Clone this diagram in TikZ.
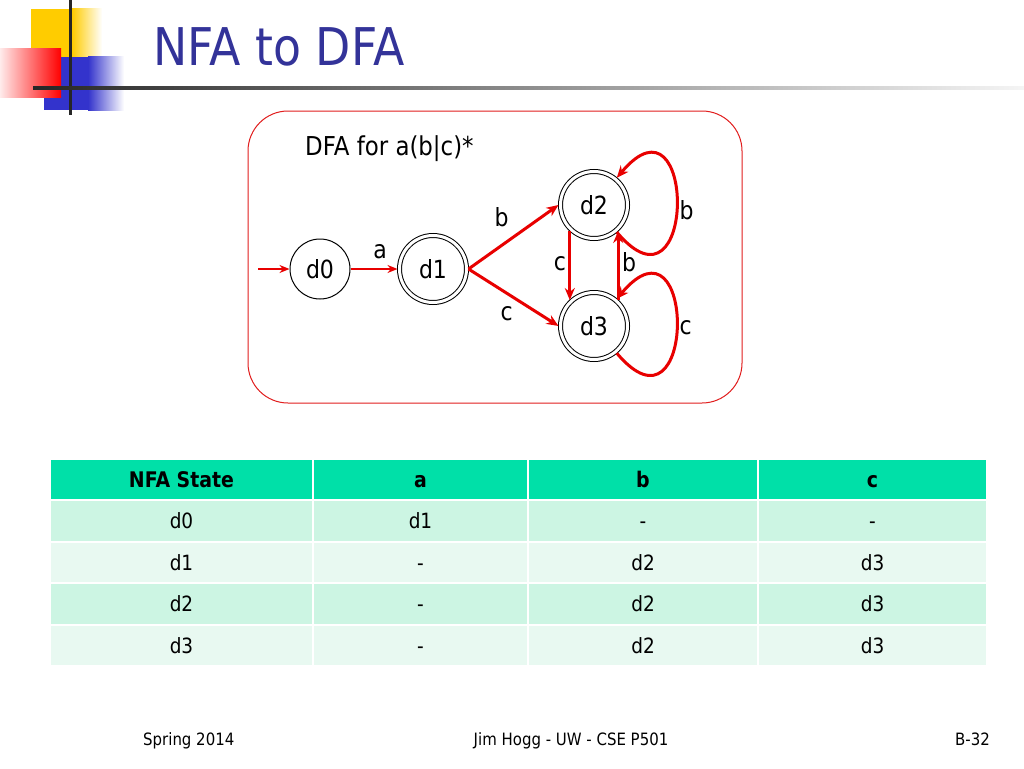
\documentclass[tikz,border=0pt]{standalone}
\usepackage{fontspec}
\setmainfont{DejaVu Sans}[FakeStretch=0.88]
\usetikzlibrary{arrows.meta}

\definecolor{titleblue}{RGB}{51,51,153}
\definecolor{arcred}{RGB}{232,0,0}
\definecolor{boxred}{RGB}{225,30,30}
\definecolor{headgreen}{RGB}{0,224,168}
\definecolor{rowA}{RGB}{204,245,227}
\definecolor{rowB}{RGB}{232,249,241}
\definecolor{logoyellow}{RGB}{255,204,0}
\definecolor{logoblue}{RGB}{51,51,204}
\definecolor{logored}{RGB}{255,0,0}

\tikzset{
  state/.style={circle,draw,line width=1pt,minimum size=60,inner sep=0pt,
    font=\fontsize{25}{25}\selectfont},
  accept/.style={state,double,double distance=3pt,minimum size=67,outer sep=2pt},
  trans/.style={draw=arcred,line width=3pt,-{Stealth[length=12pt,width=10pt]}},
  thintrans/.style={trans,line width=2.2pt,-{Stealth[length=10pt,width=8pt]}},
  lbl/.style={font=\fontsize{25}{25}\selectfont},
  cell/.style={draw=white,line width=2pt,inner sep=0pt,text height=15pt,text depth=0pt,
    font=\fontsize{21}{21}\selectfont}
}

\begin{document}
\begin{tikzpicture}[x=1pt,y=-1pt]
  \useasboundingbox (0,0) rectangle (1024,768);
  \fill[white] (0,0) rectangle (1024,768);

  % logo
  \fill[logoyellow] (31,9) rectangle (72,57);
  \shade[left color=logoyellow,right color=white] (72,9) rectangle (102,57);
  \fill[logoblue] (44,57) rectangle (88,110);
  \shade[left color=logoblue,right color=white] (88,57) rectangle (124,110);
  \shade[left color=red!8,right color=logored] (0,49) rectangle (61,97);
  \fill[black!85] (69,0) rectangle (72,115);
  \shade[left color=black!85,right color=black!4] (33,86.5) rectangle (1024,89.5);

  % title
  \node[anchor=base west,inner sep=0pt,text=titleblue,font=\fontsize{52}{52}\selectfont]
    (title) at (153,66) {NFA to DFA};

  % box round the automaton
  \draw[boxred,line width=1pt,rounded corners=40] (248,111) rectangle (742,403);
  \node[anchor=base west,inner sep=0pt,font=\fontsize{26}{26}\selectfont]
    (caption) at (305,155) {DFA for a(b|c)*};

  % states
  \node[state]  (d0) at (320,269) {d0};
  \node[accept] (d1) at (433,269) {d1};
  \node[accept] (d2) at (594,205) {d2};
  \node[accept] (d3) at (594,326) {d3};
  \coordinate (start) at (258,269);

  % transitions
  \draw[thintrans] (start) -- (d0);
  \draw[thintrans] (d0) -- node[lbl,above,xshift=6pt,yshift=6pt] {a} (d1);
  \draw[trans] (d1.east) -- node[lbl,above left,yshift=5pt] {b} (d2.west);
  \draw[trans] (d1.east) -- node[lbl,below left,xshift=4pt,yshift=-4pt] {c} (d3.west);
  \draw[trans] (d2.-133) -- node[lbl,left,xshift=1pt,yshift=2pt] {c} (d3.133);
  \draw[trans] (d3.47) -- node[lbl,right,xshift=-1pt,yshift=3pt] {b} (d2.-47);
  \draw[trans] (d2.-50) .. controls +(80,95) and +(80,-95) .. node[lbl,right,xshift=-2pt,yshift=-5pt] {b} (d2.50);
  \draw[trans] (d3.-50) .. controls +(80,95) and +(80,-95) .. node[lbl,right,xshift=-2pt,yshift=-2pt] {c} (d3.50);

  % table header
  \foreach \txt [count=\c] in {NFA State,a,b,c} {
    \pgfmathsetmacro\cx{{181.5,420.5,643,872.5}[\c-1]}
    \pgfmathsetmacro\w{{263,215,230,229}[\c-1]}
    \node[cell,fill=headgreen,minimum width=\w,minimum height=41,
      font=\fontsize{21.5}{21.5}\selectfont\bfseries] (h-\c) at (\cx,479.5) {\txt};
  }

  % table rows
  \foreach \row [count=\r] in {{d0,d1,-,-},{d1,-,d2,d3},{d2,-,d2,d3},{d3,-,d2,d3}} {
    \ifodd\r \def\clr{rowA}\else \def\clr{rowB}\fi
    \foreach \txt [count=\c] in \row {
      \pgfmathsetmacro\cx{{181.5,420.5,643,872.5}[\c-1]}
      \pgfmathsetmacro\w{{263,215,230,229}[\c-1]}
      \pgfmathsetmacro\cy{479.5+41.5*\r}
      \node[cell,fill=\clr,minimum width=\w,minimum height=41.5] (c-\r-\c) at (\cx,\cy) {\txt};
    }
  }

  % footer
  \node[anchor=base west,inner sep=0pt,font=\fontsize{17}{17}\selectfont] (season) at (143,745) {Spring 2014};
  \node[anchor=base,inner sep=0pt,font=\fontsize{17}{17}\selectfont] (author) at (571,745) {Jim Hogg - UW - CSE P501};
  \node[anchor=base east,inner sep=0pt,font=\fontsize{17}{17}\selectfont] (page) at (990,745) {B-32};
\end{tikzpicture}
\end{document}
